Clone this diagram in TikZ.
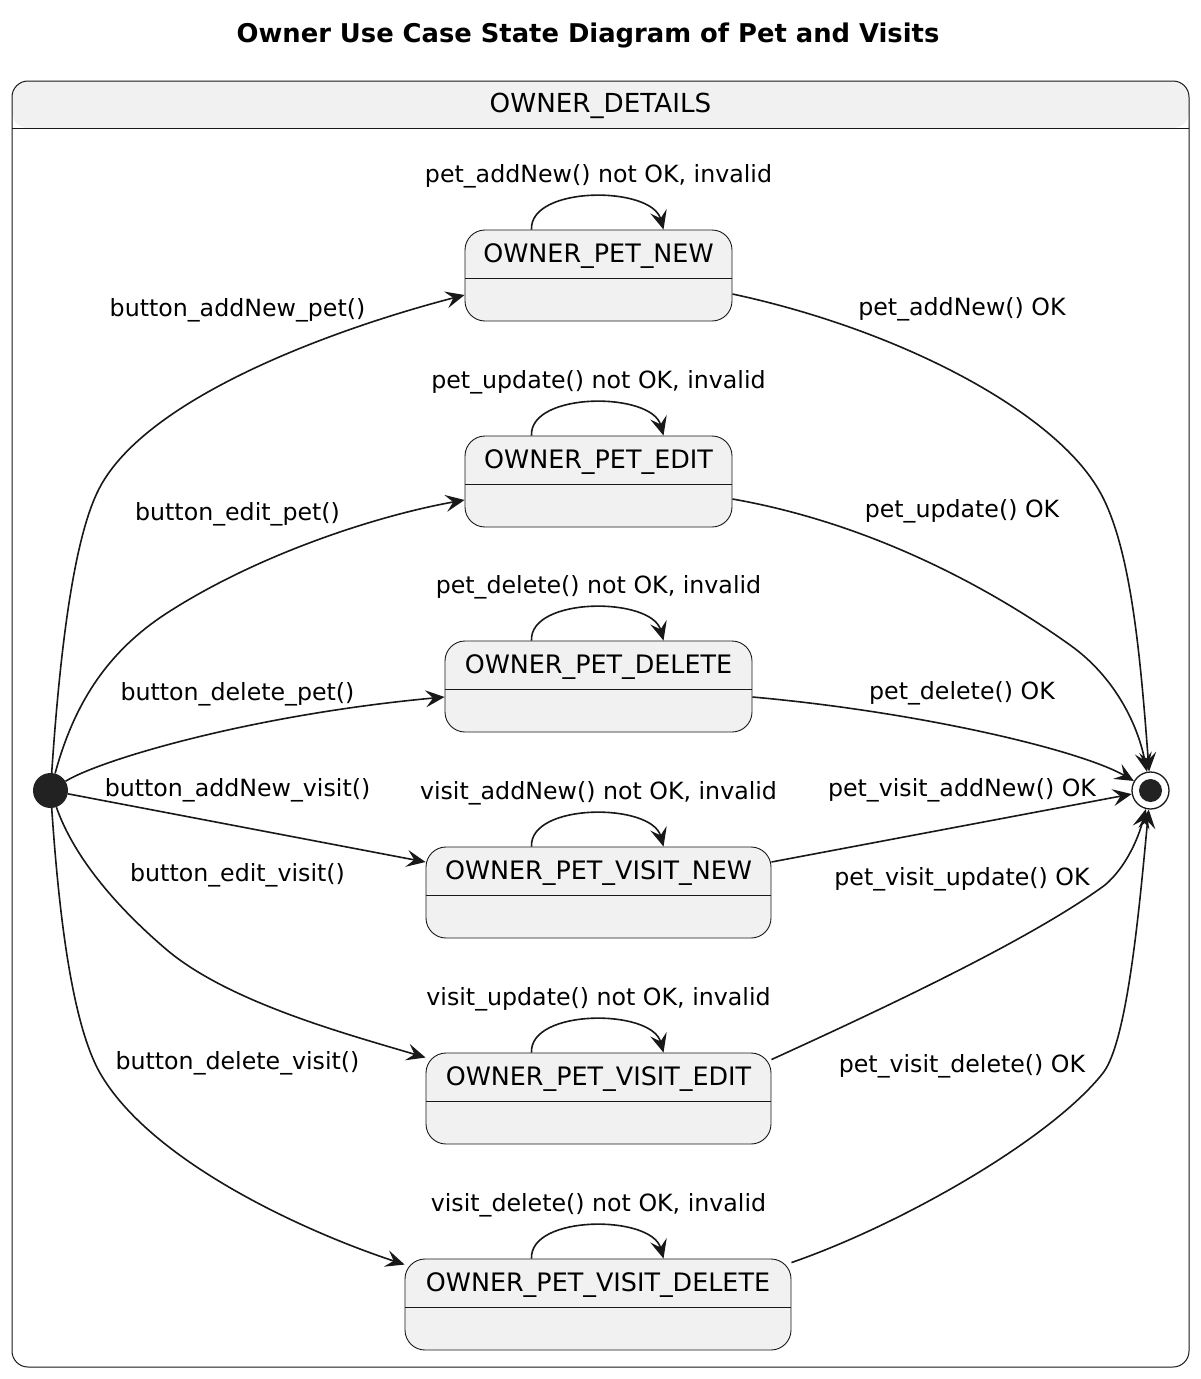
\documentclass[tikz,border=0pt]{standalone}
\usepackage{fontspec}
\setmainfont{DejaVu Sans}
\usetikzlibrary{arrows.meta, calc}

\definecolor{statefill}{HTML}{F1F1F1}
\definecolor{linec}{HTML}{181818}
\definecolor{dotc}{HTML}{222222}

\begin{document}
\begin{tikzpicture}[x=1pt, y=-1pt, every node/.style={font=\fontsize{23.7}{28}\selectfont}]
  % styles
  \tikzset{
    state/.style={rectangle, rounded corners=20pt, draw=linec, line width=0.9pt, fill=statefill,
      minimum height=91pt, inner sep=0pt,
      path picture={\draw[linec, line width=0.9pt]
        ([yshift=-48pt]path picture bounding box.north west) -- ([yshift=-48pt]path picture bounding box.north east);}},
    statename/.style={anchor=base, yshift=-33pt, inner sep=0pt, font=\fontsize{25.4}{30}\selectfont},
    ownerbox/.style={rectangle, rounded corners=16pt, draw=linec, line width=1pt, inner sep=0pt,
      path picture={\fill[statefill] (path picture bounding box.north west) rectangle ([yshift=-47pt]path picture bounding box.north east);
        \draw[linec, line width=1pt]
        ([yshift=-47pt]path picture bounding box.north west) -- ([yshift=-47pt]path picture bounding box.north east);}},
    startstate/.style={circle, fill=dotc, minimum size=35pt, inner sep=0pt},
    endstate/.style={circle, draw=linec, line width=1.3pt, fill=white, minimum size=37pt, inner sep=0pt,
      path picture={\fill[dotc] (path picture bounding box.center) circle (11.5pt);}},
    lbl/.style={anchor=base, inner sep=0pt},
    arrow/.style={draw=linec, line width=1.6pt, -{Stealth[length=19pt, width=17pt, inset=7.5pt]}}
  }
  \useasboundingbox[fill=white] (0,0) rectangle (1200,1379);

  % title and composite state
  \node[lbl, font=\fontsize{25.8}{30}\selectfont\bfseries] (title) at (588,42) {Owner Use Case State Diagram of Pet and Visits};
  \node[ownerbox, minimum width=1177pt, minimum height=1286pt,
    label={[statename, yshift=1pt, font=\fontsize{26.2}{30}\selectfont]north:OWNER\_DETAILS}] (details) at (600.5,724) {};

  % states
  \node[startstate] (init) at (50.5,790.5) {};
  \node[endstate] (final) at (1150.5,790.5) {};

  \node[state, minimum width=267pt, label={[statename]north:OWNER\_PET\_NEW}] (petnew) at (598.5,275.5) {};
  \node[state, minimum width=267pt, label={[statename]north:OWNER\_PET\_EDIT}] (petedit) at (598.5,481.5) {};
  \node[state, minimum width=307pt, label={[statename]north:OWNER\_PET\_DELETE}] (petdel) at (598.5,686.5) {};
  \node[state, minimum width=345pt, label={[statename]north:OWNER\_PET\_VISIT\_NEW}] (visitnew) at (598.5,892.5) {};
  \node[state, minimum width=345pt, label={[statename]north:OWNER\_PET\_VISIT\_EDIT}] (visitedit) at (598.5,1098.5) {};
  \node[state, minimum width=386pt, label={[statename]north:OWNER\_PET\_VISIT\_DELETE}] (visitdel) at (598,1304.5) {};

  % labels
  \node[lbl] (lnewin) at (237.5,316) {button\_addNew\_pet()};
  \node[lbl] (leditin) at (237.5,520) {button\_edit\_pet()};
  \node[lbl] (ldelin) at (237.5,700) {button\_delete\_pet()};
  \node[lbl] (lvnewin) at (237.5,796) {button\_addNew\_visit()};
  \node[lbl] (lveditin) at (237.5,881) {button\_edit\_visit()};
  \node[lbl] (lvdelin) at (237.5,1069) {button\_delete\_visit()};

  \node[lbl] (lnewout) at (962,315) {pet\_addNew() OK};
  \node[lbl] (leditout) at (962,517) {pet\_update() OK};
  \node[lbl] (ldelout) at (962,699) {pet\_delete() OK};
  \node[lbl] (lvnewout) at (962,796) {pet\_visit\_addNew() OK};
  \node[lbl] (lveditout) at (962,885) {pet\_visit\_update() OK};
  \node[lbl] (lvdelout) at (962,1072) {pet\_visit\_delete() OK};

  \node[lbl] (lnewloop) at (598.5,182) {pet\_addNew() not OK, invalid};
  \node[lbl] (leditloop) at (598.5,388) {pet\_update() not OK, invalid};
  \node[lbl] (ldelloop) at (598.5,593) {pet\_delete() not OK, invalid};
  \node[lbl] (lvnewloop) at (598.5,799) {visit\_addNew() not OK, invalid};
  \node[lbl] (lveditloop) at (598.5,1005) {visit\_update() not OK, invalid};
  \node[lbl] (lvdelloop) at (598.5,1211) {visit\_delete() not OK, invalid};

  % transitions from start
  \draw[arrow] (init) .. controls (58,680) and (70,550) .. (97,493)
    .. controls (140,400) and (330,330) .. ([yshift=-19.5pt]petnew.west);
  \draw[arrow] (init) .. controls (75,700) and (110,650) .. (167,613)
    .. controls (260,553) and (380,515) .. ([yshift=-18.5pt]petedit.west);
  \draw[arrow] (init) .. controls (100,760) and (250,715) .. ([yshift=-10.5pt]petdel.west);
  \draw[arrow] (init) -- ([yshift=30.5pt]visitnew.west);
  \draw[arrow] (init) .. controls (75,860) and (120,910) .. (167,950)
    .. controls (230,1003) and (350,1035) .. ([yshift=-5pt]visitedit.north west);
  \draw[arrow] (init) .. controls (58,900) and (70,1020) .. (100,1073)
    .. controls (150,1160) and (300,1230) .. ([yshift=-6pt]visitdel.north west);

  % self loops
  \draw[arrow] ([xshift=-67pt]petnew.north) .. controls +(-2,-44) and +(-12,-44) .. ([xshift=65pt]petnew.north);
  \draw[arrow] ([xshift=-67pt]petedit.north) .. controls +(-2,-44) and +(-12,-44) .. ([xshift=65pt]petedit.north);
  \draw[arrow] ([xshift=-67pt]petdel.north) .. controls +(-2,-44) and +(-12,-44) .. ([xshift=65pt]petdel.north);
  \draw[arrow] ([xshift=-67pt]visitnew.north) .. controls +(-2,-44) and +(-12,-44) .. ([xshift=65pt]visitnew.north);
  \draw[arrow] ([xshift=-67pt]visitedit.north) .. controls +(-2,-44) and +(-12,-44) .. ([xshift=65pt]visitedit.north);
  \draw[arrow] ([xshift=-66.5pt]visitdel.north) .. controls +(-2,-44) and +(-12,-44) .. ([xshift=65.5pt]visitdel.north);

  % transitions to end
  \draw[arrow] ([yshift=-18.5pt]petnew.east) .. controls (900,330) and (1050,410) .. (1097,487)
    .. controls (1130,540) and (1140,650) .. (final);
  \draw[arrow] ([yshift=-17.5pt]petedit.east) .. controls (880,525) and (1000,595) .. (1070,645)
    .. controls (1115,677) and (1138,725) .. (final);
  \draw[arrow] ([yshift=-10.5pt]petdel.east) .. controls (920,712) and (1080,750) .. (final);
  \draw[arrow] ([yshift=30.5pt]visitnew.east) -- (final);
  \draw[arrow] ([yshift=-7pt]visitedit.north east) .. controls (880,1010) and (1030,940) .. (1105,885)
    .. controls (1125,868) and (1138,840) .. (final);
  \draw[arrow] ([yshift=-4pt]visitdel.north east) .. controls (900,1225) and (1050,1140) .. (1103,1073)
    .. controls (1128,1041) and (1140,900) .. (final);
\end{tikzpicture}
\end{document}
